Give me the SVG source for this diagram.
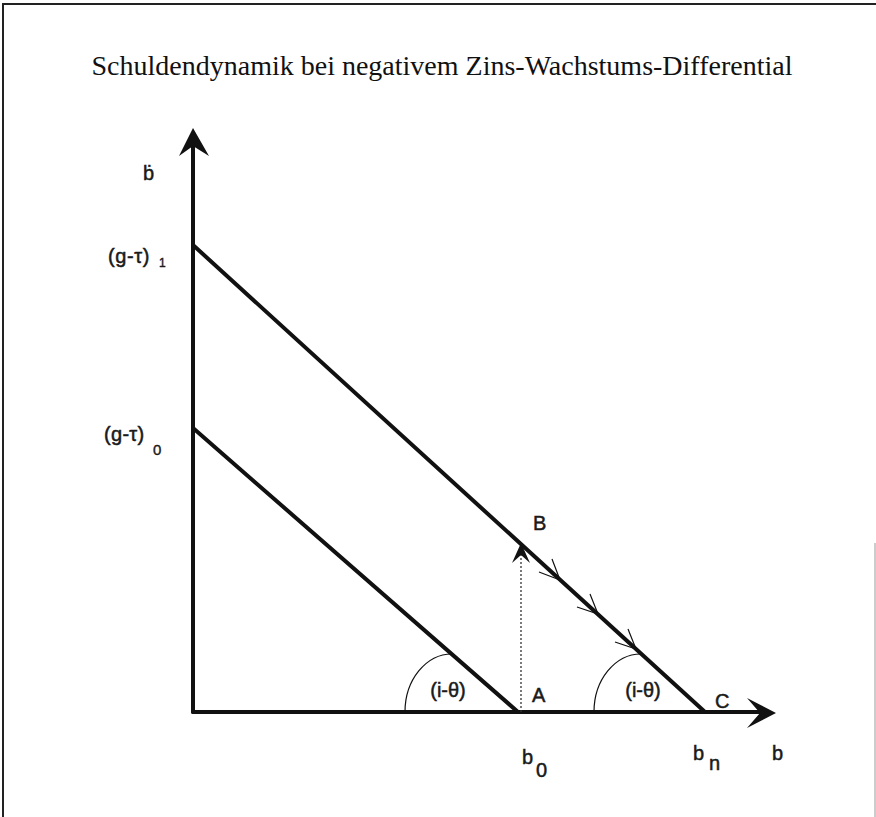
<svg xmlns="http://www.w3.org/2000/svg" width="876" height="817" viewBox="0 0 876 817">
<style>
.lbl{font-family:"Liberation Sans",Arial,sans-serif;font-size:20px;fill:#1a1a1a;stroke:#1a1a1a;stroke-width:0.5}
.sub{font-family:"Liberation Sans",Arial,sans-serif;fill:#1a1a1a;stroke:#1a1a1a;stroke-width:0.4}
.thick{stroke:#111;stroke-width:4;fill:none;stroke-linecap:round}
.thin{stroke:#111;stroke-width:1.2;fill:none}
.head{fill:#111;stroke:none}
</style>
<rect width="876" height="817" fill="#fff"/>
<g id="frame">
<path d="M3,817 V4 H876" stroke="#222" stroke-width="2" fill="none"/>
<path d="M875,543 V817" stroke="#bbb" stroke-width="1.5" fill="none"/>
</g>
<g id="title">
<text x="442" y="75" text-anchor="middle" font-family="'Liberation Serif','Times New Roman',serif" font-size="28" fill="#111">Schuldendynamik bei negativem Zins-Wachstums-Differential</text>
</g>
<g id="axes">
<path class="thick" d="M193,712 V140"/>
<polygon class="head" points="193,128 179,156 193,146 209,156"/>
<path class="thick" d="M193,712 H765"/>
<polygon class="head" points="776,713 747,698 760,713 747,728"/>
</g>
<g id="connectors">
<path class="thick" d="M193,245 L705,712"/>
<path class="thick" d="M193,428 L518,712"/>
<path d="M521,712 V554" stroke="#333" stroke-width="1.3" stroke-dasharray="2,2" fill="none"/>
<polygon class="head" points="521,543 512,563 521,555 530,563"/>
<path class="thin" d="M539,572 L560,580 L552,559"/>
<path class="thin" d="M577,607 L598,614 L590,594"/>
<path class="thin" d="M615,642 L636,649 L628,629"/>
<path class="thin" d="M405,712 A47,58 0 0 1 452,654"/>
<path class="thin" d="M594,712 A47,58 0 0 1 641,654"/>
</g>
<g id="labels">
<text class="lbl" x="143" y="180">ḃ</text>
<text class="lbl" x="108" y="263" font-size="21" letter-spacing="0.6">(g-τ)</text>
<text class="sub" x="159" y="267" font-size="12">1</text>
<text class="lbl" x="104" y="441" font-size="21" letter-spacing="0.3">(g-τ)</text>
<text class="sub" x="153" y="455" font-size="15">0</text>
<text class="lbl" x="448" y="697" text-anchor="middle">(i-θ)</text>
<text class="lbl" x="643" y="697" text-anchor="middle">(i-θ)</text>
<text class="lbl" x="532" y="702">A</text>
<text class="lbl" x="533" y="530">B</text>
<text class="lbl" x="715" y="708">C</text>
<text class="lbl" x="522" y="764">b</text>
<text class="lbl" x="536" y="777">0</text>
<text class="lbl" x="693" y="760">b</text>
<text class="lbl" x="709" y="770">n</text>
<text class="lbl" x="772" y="760">b</text>
</g>
</svg>
